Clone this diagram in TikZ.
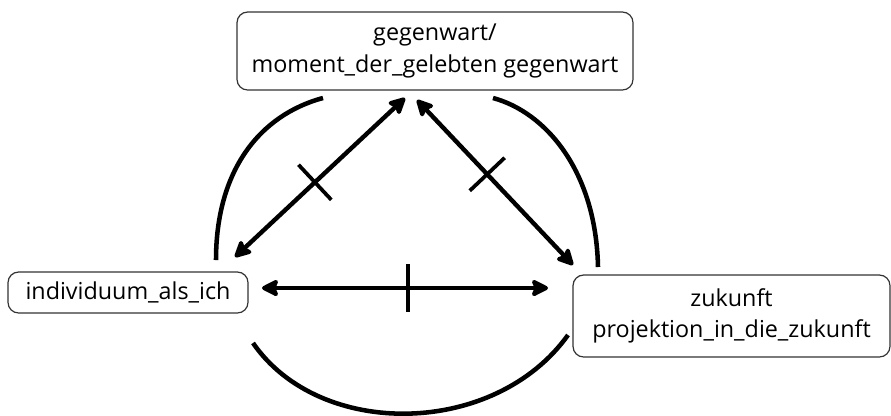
\documentclass[tikz,border=0pt]{standalone}
\usepackage{fontspec}
\setmainfont{Open Sans}
\usetikzlibrary{arrows.meta,decorations.markings}
\begin{document}
\begin{tikzpicture}[x=0.75pt,y=-0.75pt,
    box/.style={draw=black!80, line width=0.9pt, rounded corners=8pt, outer sep=0pt, inner sep=0pt,
      align=center, font=\fontsize{17.5}{23.5}\selectfont},
    conn/.style={line width=3.3pt, {Stealth[length=15pt,width=15pt,inset=3pt,round]}-{Stealth[length=15pt,width=15pt,inset=3pt,round]}},
    ring/.style={line width=3.4pt},
    tickat/.style={postaction={decorate}, decoration={markings,
      mark=at position #1 with {\draw[-, line width=2.8pt] (0,-24) -- (0,24);}}}]
    \useasboundingbox (0,0) rectangle (891,415);
    % boxes
    \node[box, minimum width=396*0.75pt, minimum height=78*0.75pt] (gw) at (435,51) {gegenwart/\\moment\_der\_gelebten gegenwart};
    \node[box, minimum width=240*0.75pt, minimum height=41*0.75pt] (ich) at (128,292.5) {individuum\_als\_ich};
    \node[box, minimum width=317*0.75pt, minimum height=82*0.75pt] (zk) at (731.5,316) {zukunft\\projektion\_in\_die\_zukunft};
    % arcs
    \draw[ring] (216,260) .. controls (216,170) and (260,115) .. (323,98);
    \draw[ring] (493,98) .. controls (545,112) and (596,170) .. (598,267);
    \draw[ring] (253,343) .. controls (320,440) and (495,437) .. (568,335);
    % arrows
    \draw[conn, tickat=0.47] ([shift={(-13,-15)}]ich.north east) -- ([shift={(-30,8)}]gw.south);
    \draw[conn, tickat=0.45] ([shift={(-18,10)}]gw.south) -- ([shift={(0,-10)}]zk.north west);
    \draw[conn, tickat=0.51] ([shift={(14,-4.5)}]ich.east) -- ([shift={(-25,-28)}]zk.west);
\end{tikzpicture}
\end{document}
